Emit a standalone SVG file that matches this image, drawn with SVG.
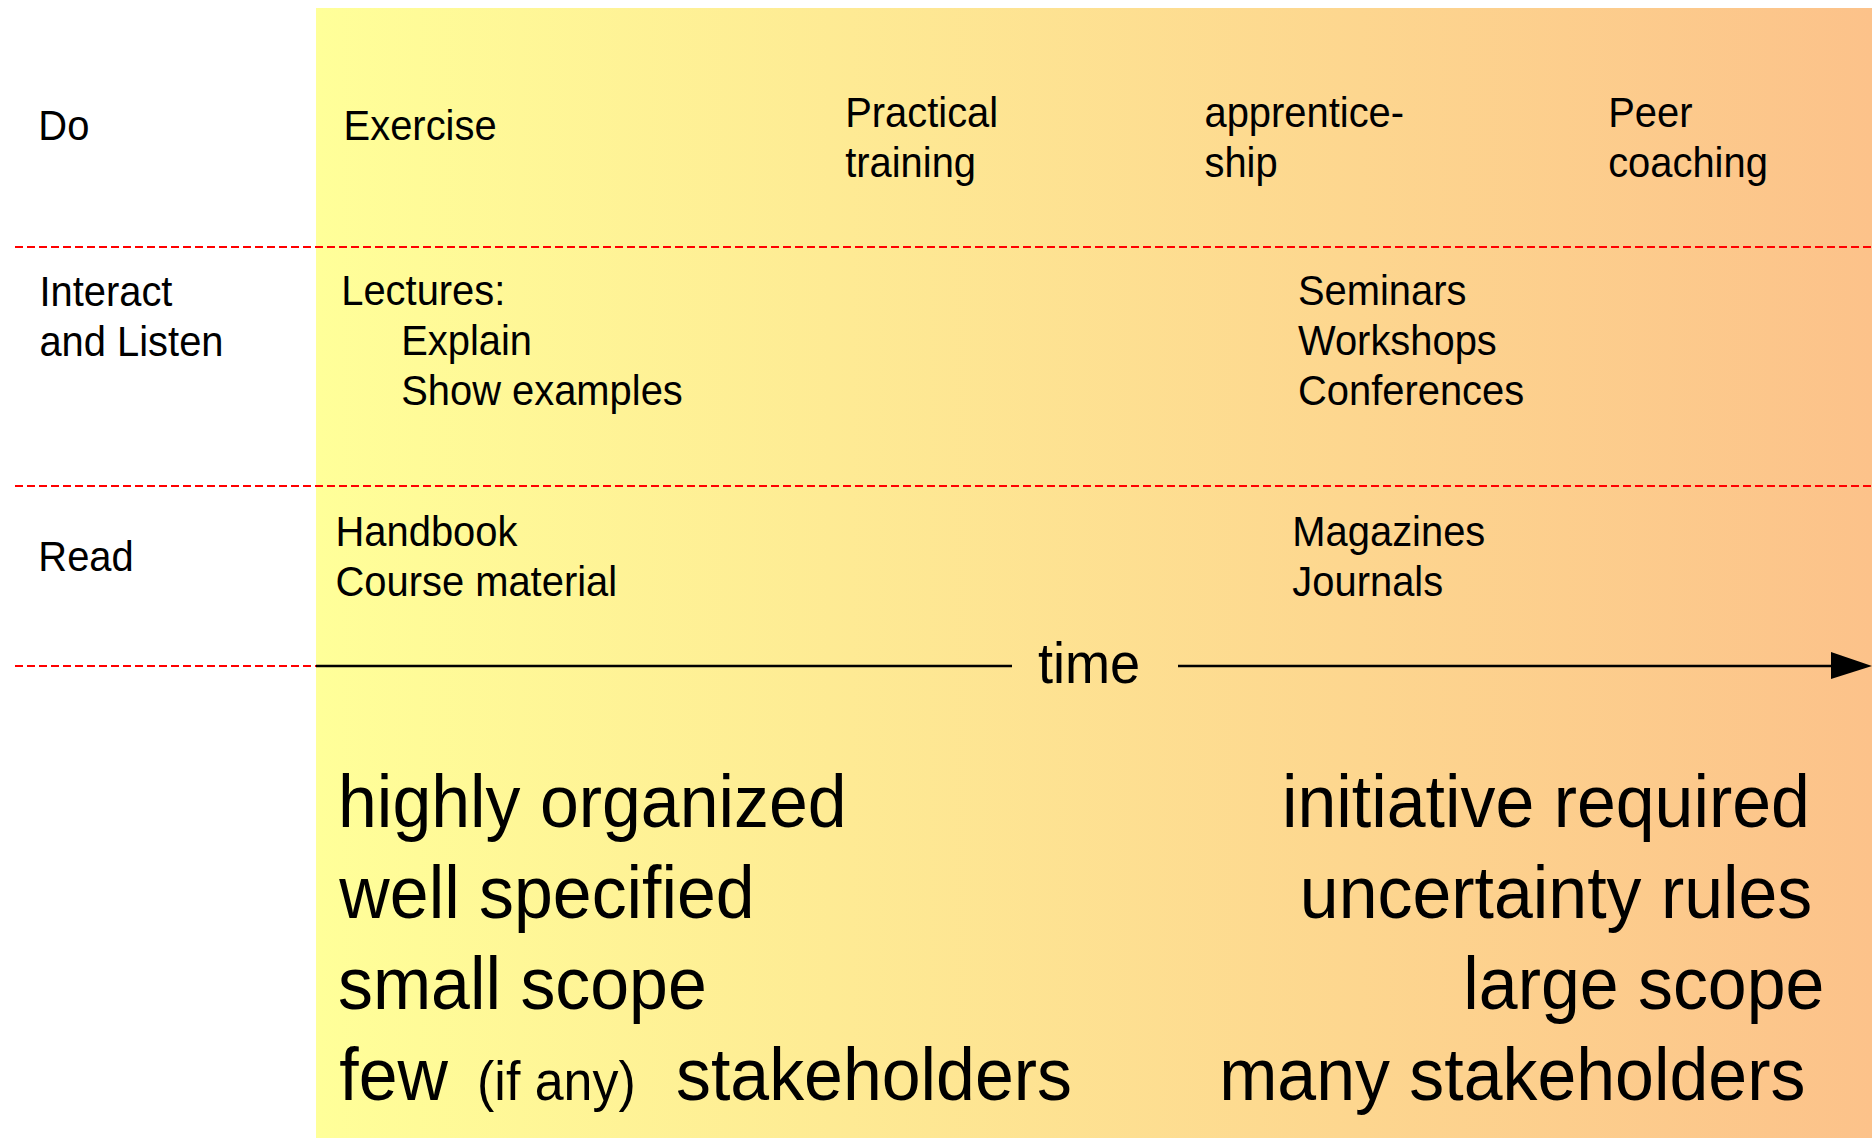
<svg xmlns="http://www.w3.org/2000/svg" width="1874" height="1138" viewBox="0 0 1874 1138">
  <defs>
    <linearGradient id="bg" x1="0" y1="0" x2="1" y2="0">
      <stop offset="0" stop-color="#FFFF99"/>
      <stop offset="1" stop-color="#FCC28A"/>
    </linearGradient>
    <style>
      text { font-family: "Liberation Sans", Arial, Helvetica, sans-serif; fill: #000; }
      .s { font-size: 42px; }
      .b { font-size: 74px; }
      .p { font-size: 55px; }
      .t { font-size: 57px; }
      .sep { stroke: #FF0000; stroke-width: 2; stroke-dasharray: 8 4; fill: none; }
      .axis { stroke: #000; stroke-width: 2.5; fill: none; }
    </style>
  </defs>
  <rect width="1874" height="1138" fill="#FFFFFF"/>
  <rect id="background" x="316" y="8" width="1556" height="1130" fill="url(#bg)"/>

  <g id="separators">
    <line class="sep" x1="15" y1="247" x2="1874" y2="247"/>
    <line class="sep" x1="15" y1="486" x2="1874" y2="486"/>
    <line class="sep" x1="15" y1="666" x2="316" y2="666"/>
  </g>

  <g id="connectors">
    <line class="axis" x1="316" y1="666" x2="1012" y2="666"/>
    <line class="axis" x1="1178" y1="666" x2="1834" y2="666"/>
    <polygon points="1831,652 1872,666 1831,679" fill="#000"/>
  </g>

  <g transform="scale(0.95 1)">
    <g id="row-do"><text class="s" x="40.4" y="140">Do</text></g>
    <g id="row-interact"><text class="s" x="41.5" y="306">Interact</text><text class="s" x="41.5" y="356">and Listen</text></g>
    <g id="row-read"><text class="s" x="40.4" y="571">Read</text></g>

    <g id="exercise"><text class="s" x="361.7" y="140">Exercise</text></g>
    <g id="practical-training"><text class="s" x="889.7" y="127">Practical</text><text class="s" x="889.7" y="177">training</text></g>
    <g id="apprenticeship"><text class="s" x="1267.9" y="127">apprentice-</text><text class="s" x="1267.9" y="177">ship</text></g>
    <g id="peer-coaching"><text class="s" x="1692.8" y="127">Peer</text><text class="s" x="1692.8" y="177">coaching</text></g>

    <g id="lectures"><text class="s" x="359.2" y="305">Lectures:</text><text class="s" x="422.3" y="355">Explain</text><text class="s" x="422.3" y="405">Show examples</text></g>
    <g id="seminars"><text class="s" x="1366.3" y="305">Seminars</text><text class="s" x="1366.3" y="355">Workshops</text><text class="s" x="1366.3" y="405">Conferences</text></g>

    <g id="handbook"><text class="s" x="353.2" y="546">Handbook</text><text class="s" x="353.2" y="596">Course material</text></g>
    <g id="magazines"><text class="s" x="1360.4" y="546">Magazines</text><text class="s" x="1360.4" y="596">Journals</text></g>

    <g id="time-label"><text class="t" x="1092.6" y="683">time</text></g>
  </g>

  <g transform="scale(0.944 1)">
    <g id="left-traits">
      <text class="b" x="358.1" y="827">highly organized</text>
      <text class="b" x="359.5" y="918">well specified</text>
      <text class="b" x="358.1" y="1009">small scope</text>
      <text class="b" x="359.5" y="1100">few</text>
      <text class="p" x="505.4" y="1100">(if any)</text>
      <text class="b" x="716.1" y="1100">stakeholders</text>
    </g>
    <g id="right-traits">
      <text class="b" x="1358" y="827">initiative required</text>
      <text class="b" x="1377" y="918">uncertainty rules</text>
      <text class="b" x="1550.1" y="1009">large scope</text>
      <text class="b" x="1291.5" y="1100">many stakeholders</text>
    </g>
  </g>
</svg>
